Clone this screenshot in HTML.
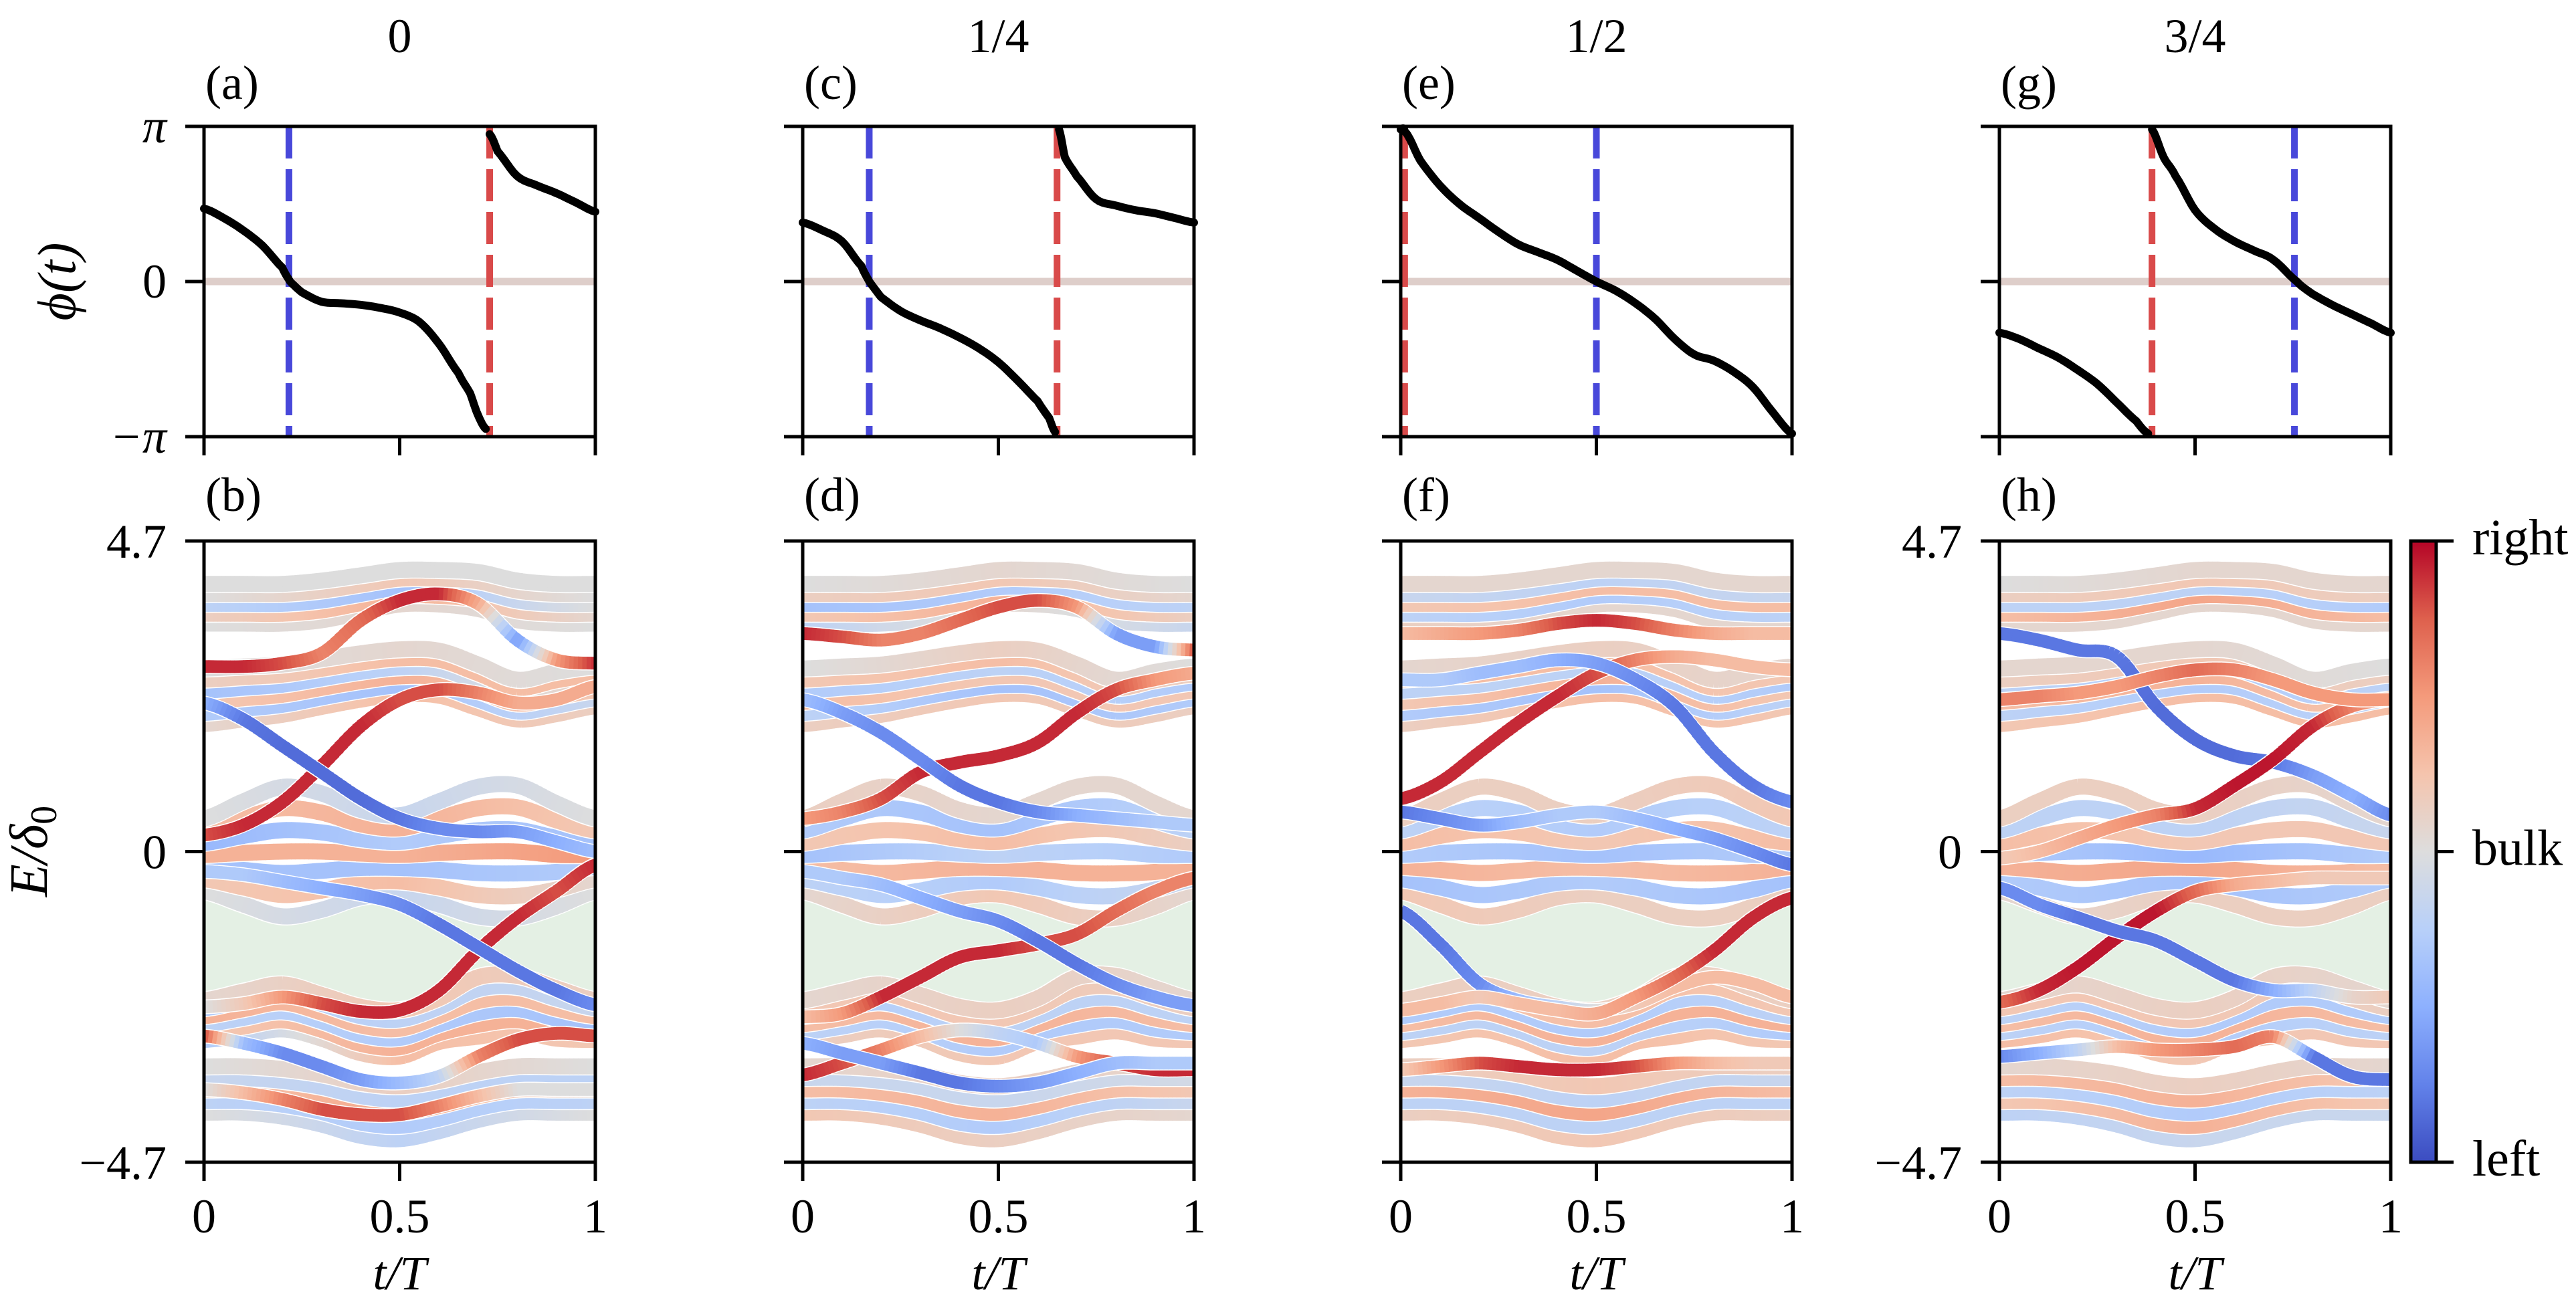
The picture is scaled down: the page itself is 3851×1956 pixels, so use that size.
<!DOCTYPE html>
<html><head><meta charset="utf-8"><title>Band structures and phase panels</title>
<style>
html,body{margin:0;padding:0;background:#fff;}
svg{display:block;font-family:"Liberation Serif","DejaVu Serif",serif;}
text{fill:#000;}
</style></head>
<body>
<svg id="fig" xmlns="http://www.w3.org/2000/svg" width="3851" height="1956" viewBox="0 0 3851 1956">
<defs>
<linearGradient id="cbgrad" x1="0" y1="1" x2="0" y2="0">
<stop offset="0" stop-color="rgb(59,76,192)"/><stop offset="0.125" stop-color="rgb(98,130,234)"/>
<stop offset="0.25" stop-color="rgb(141,176,254)"/><stop offset="0.375" stop-color="rgb(184,208,249)"/>
<stop offset="0.5" stop-color="rgb(221,221,221)"/><stop offset="0.625" stop-color="rgb(245,196,173)"/>
<stop offset="0.75" stop-color="rgb(244,154,123)"/><stop offset="0.875" stop-color="rgb(222,96,77)"/>
<stop offset="1" stop-color="rgb(180,4,38)"/>
</linearGradient>
</defs>
<g id="root"></g>
</svg>
<script>
// ---------- data ----------
const colTitles = ["0","1/4","1/2","3/4"];
const topLabels = ["(a)","(c)","(e)","(g)"];
const botLabels = ["(b)","(d)","(f)","(h)"];
const tKnots = [0,0.1,0.2,0.3,0.4,0.5,0.6,0.7,0.8,0.9,1];
const xTicks = [0,0.5,1];
const xTickLabels = ["0","0.5","1"];
const phiTicks = [1,0,-1];
const phiTickLabels = ["π","0","−π"];
const eTicks = [4.7,0,-4.7];
const eTickLabels = ["4.7","0","−4.7"];

// phase phi(t) in units of pi
const phiT_a = [0,.05,.1,.15,.2,.22,.25,.3,.35,.4,.45,.5,.55,.6,.65,.68,.7,.72,.73,.75,.8,.85,.9,.95,1];
const phiV_a = [.47,.41,.33,.23,.09,0,-.07,-.13,-.14,-.15,-.17,-.2,-.26,-.4,-.59,-.72,-.86,-.95,.95,.84,.68,.62,.57,.51,.45];
const phiT_c = [0,.05,.1,.15,.17,.2,.25,.3,.35,.4,.45,.5,.55,.6,.63,.645,.655,.67,.7,.75,.8,.85,.9,.95,1];
const phiV_c = [.38,.33,.26,.1,0,-.1,-.19,-.25,-.3,-.36,-.43,-.52,-.64,-.77,-.88,-.97,.98,.8,.68,.53,.49,.46,.44,.41,.38];
const phiT_e = [0,.01,.05,.1,.15,.2,.25,.3,.35,.4,.45,.5,.55,.6,.65,.7,.75,.8,.85,.9,.95,1];
const phiV_e = [.98,.97,.78,.62,.5,.41,.32,.24,.19,.14,.07,0,-.06,-.14,-.24,-.37,-.47,-.51,-.58,-.68,-.84,-.98];
const phiT_g = [0,.05,.1,.15,.2,.25,.3,.35,.38,.39,.42,.45,.5,.55,.6,.65,.7,.76,.8,.85,.9,.95,1];
const phiV_g = [-.33,-.37,-.43,-.49,-.57,-.66,-.78,-.9,-.98,.98,.8,.68,.46,.34,.26,.2,.14,0,-.08,-.15,-.21,-.27,-.33];
const blueDash = [0.217,0.17,0.5,0.754];
const redDash = [0.73,0.65,0.01,0.39];

// gap region (energy units)
const gapTop = [-0.67,-0.9,-1.08,-0.95,-0.76,-0.72,-0.85,-1.08,-1.12,-0.85,-0.62];
const gapBot = [-2.22,-2.1,-2.01,-2.15,-2.33,-2.38,-2.2,-1.95,-1.88,-2.05,-2.25];

// bulk band groups: centers, half widths, band offsets
const grpCenter = [
 [3.75,3.75,3.75,3.8,3.9,4.0,4.0,3.95,3.8,3.75,3.75],
 [2.35,2.4,2.45,2.55,2.65,2.72,2.7,2.5,2.3,2.4,2.5],
 [-0.05,-0.02,0,0,-0.03,-0.05,-0.02,0,0,-0.05,-0.05],
 [-2.55,-2.45,-2.35,-2.5,-2.7,-2.75,-2.55,-2.35,-2.3,-2.45,-2.55],
 [-3.6,-3.6,-3.65,-3.75,-3.9,-3.95,-3.85,-3.7,-3.6,-3.6,-3.6]
];
const grpHalf = [
 [0.3,0.3,0.3,0.3,0.28,0.26,0.26,0.28,0.3,0.3,0.3],
 [0.42,0.4,0.38,0.36,0.35,0.34,0.34,0.33,0.3,0.32,0.3],
 [0.55,0.78,0.98,0.88,0.66,0.6,0.78,0.98,1.0,0.78,0.55],
 [0.3,0.33,0.34,0.33,0.35,0.35,0.33,0.45,0.42,0.38,0.3],
 [0.35,0.35,0.36,0.38,0.4,0.4,0.38,0.36,0.35,0.35,0.35]
];
const grpOffsets = [
 [-1,-0.5,0,0.5,1],
 [-1,-0.6,-0.2,0.2,0.6,1],
 [-1,-0.67,-0.33,0,0.33,0.67,1],
 [-1,-0.6,-0.2,0.2,0.6,1],
 [-1,-0.5,0,0.5,1]
];
// bulk polarization colors per panel (knots t=0, .5, 1) -1 left .. +1 right
const bulkCol_b = [
 [0,0.1,0],[0.2,0.5,0.1],[-0.3,-0.5,0],[0,0.3,0],[0,0,0],
 [0.1,0.4,0.2],[-0.4,-0.5,-0.2],[0.3,0.5,0.3],[-0.5,-0.3,0.2],[0.2,0.4,0.4],[0,0.1,0],
 [0,-0.2,0],[0.3,0.4,0.1],[-0.5,-0.5,-0.4],[0.5,0.5,0.7],[-0.6,-0.4,-0.5],[0.4,0.5,0.3],[0,-0.2,0],
 [-0.4,0.4,0.3],[0.3,0.5,0.5],[-0.3,-0.4,-0.5],[0.5,0.4,0.4],[-0.4,-0.3,-0.2],[0.1,0.3,0.2],
 [0,-0.3,0],[-0.3,-0.4,-0.3],[0.3,0.6,0.1],[-0.2,-0.3,-0.3],[0,0.2,0]
];
const bulkCol_d = [
 [-0.3,0.1,-0.2],[0.3,0.5,0.2],[-0.5,-0.4,-0.3],[0.2,0.3,0.1],[0,0.1,0],
 [0.2,0.3,0.2],[-0.3,-0.5,-0.4],[0.4,0.3,0.3],[-0.4,-0.3,-0.4],[0.3,0.4,0.2],[0,0.2,0],
 [0.1,0.3,0.1],[-0.3,-0.4,-0.2],[0.4,0.5,0.5],[-0.5,-0.3,-0.4],[0.3,0.4,0.2],[-0.4,-0.5,-0.3],[0.2,0.1,0.1],
 [0.2,0.3,0.3],[-0.3,-0.4,-0.4],[0.4,0.5,0.4],[-0.4,-0.3,-0.3],[0.3,0.3,0.2],[0.1,0.2,0.1],
 [0.3,0.2,0.1],[-0.3,-0.4,-0.2],[0.4,0.5,0.3],[-0.2,-0.2,-0.1],[0.1,0.2,0.1]
];
const bulkCol_f = [
 [0.2,0.1,0.1],[-0.3,-0.4,-0.3],[0.3,0.4,0.4],[-0.2,-0.3,-0.2],[0.1,0.1,0.1],
 [0.2,0.4,0.3],[-0.4,-0.5,-0.3],[0.3,0.5,0.3],[-0.3,-0.3,-0.4],[0.4,0.4,0.3],[0.1,0.2,0.1],
 [0.3,0.2,0.2],[-0.5,-0.4,-0.5],[0.5,0.4,0.5],[-0.4,-0.5,-0.4],[0.4,0.3,0.4],[-0.3,-0.4,-0.3],[0.2,0.2,0.3],
 [0.3,0.4,0.3],[-0.3,-0.3,-0.4],[0.4,0.5,0.5],[-0.4,-0.4,-0.3],[0.3,0.4,0.3],[0.2,0.2,0.2],
 [0.2,0.3,0.2],[-0.3,-0.3,-0.3],[0.5,0.6,0.4],[-0.2,-0.3,-0.2],[0.2,0.3,0.2]
];
const bulkCol_h = [
 [0.1,0.1,0.1],[0.4,0.6,0.4],[-0.3,-0.3,-0.4],[0.2,0.3,0.2],[0,0.1,0.1],
 [0.3,0.4,0.4],[-0.3,-0.4,-0.3],[0.4,0.5,0.3],[-0.3,-0.4,-0.3],[0.2,0.3,0.2],[0.1,0.1,0],
 [0.1,0.2,0.2],[-0.4,-0.5,-0.4],[0.5,0.6,0.4],[-0.4,-0.6,-0.4],[0.4,0.3,0.3],[-0.3,-0.3,-0.2],[0.2,0.2,0.1],
 [0.4,0.3,0.3],[-0.3,-0.4,-0.3],[0.4,0.5,0.4],[-0.3,-0.4,-0.4],[0.3,0.3,0.2],[0.1,0.2,0.1],
 [-0.3,-0.2,-0.2],[0.3,0.5,0.3],[-0.3,-0.4,-0.3],[0.4,0.5,0.3],[0.1,0.2,0.1]
];

// edge states per panel: energies at tKnots and colors at tKnots
const edgeE_b = [
 [0.25,0.4,0.75,1.3,1.9,2.3,2.45,2.4,2.25,2.3,2.5],
 [2.25,2.0,1.6,1.2,0.8,0.5,0.35,0.3,0.3,0.15,0.0],
 [2.8,2.8,2.85,3.0,3.5,3.8,3.9,3.75,3.2,2.9,2.85],
 [-2.35,-2.3,-2.2,-2.3,-2.42,-2.4,-2.1,-1.5,-1.0,-0.6,-0.2],
 [-0.3,-0.35,-0.45,-0.55,-0.65,-0.8,-1.1,-1.45,-1.8,-2.1,-2.32],
 [-2.79,-2.9,-3.05,-3.25,-3.45,-3.5,-3.4,-3.1,-2.85,-2.75,-2.79],
 [-3.6,-3.65,-3.75,-3.9,-3.98,-3.98,-3.85,-3.7,-3.6,-3.6,-3.6]
];
const edgeC_b = [
 [0.8,0.9,0.9,0.9,0.9,0.8,0.8,0.6,0.4,0.4,0.4],
 [-0.5,-0.8,-0.85,-0.85,-0.85,-0.8,-0.7,-0.7,-0.6,-0.5,-0.4],
 [0.9,0.9,0.8,0.6,0.7,0.9,0.9,0.4,-0.6,0.5,0.9],
 [0,0.2,0.5,0.8,0.9,0.9,0.9,0.9,0.9,0.8,0.9],
 [-0.3,-0.3,-0.4,-0.5,-0.6,-0.7,-0.8,-0.8,-0.8,-0.8,-0.7],
 [0.8,-0.4,-0.7,-0.7,-0.6,-0.4,-0.2,0.6,0.8,0.8,0.8],
 [0,0.3,0.6,0.8,0.8,0.8,0.6,0.3,0,0,0]
];
const edgeE_d = [
 [0.5,0.6,0.8,1.2,1.35,1.45,1.65,2.1,2.45,2.6,2.7],
 [2.3,2.1,1.8,1.4,1.0,0.75,0.6,0.55,0.5,0.45,0.4],
 [3.3,3.25,3.2,3.3,3.5,3.7,3.8,3.7,3.3,3.1,3.05],
 [-2.5,-2.45,-2.2,-1.9,-1.6,-1.5,-1.4,-1.25,-0.9,-0.6,-0.4],
 [-0.3,-0.4,-0.5,-0.7,-0.9,-1.05,-1.35,-1.7,-2.0,-2.2,-2.33],
 [-3.38,-3.2,-3.0,-2.8,-2.7,-2.75,-2.9,-3.1,-3.2,-3.3,-3.3],
 [-2.9,-3.05,-3.2,-3.35,-3.5,-3.55,-3.5,-3.35,-3.2,-3.2,-3.2]
];
const edgeC_d = [
 [0.5,0.6,0.8,0.9,0.9,0.9,0.9,0.9,0.8,0.5,0.4],
 [-0.4,-0.6,-0.7,-0.7,-0.8,-0.8,-0.7,-0.5,-0.4,-0.3,-0.3],
 [0.9,0.8,0.6,0.6,0.7,0.8,0.8,0.5,-0.6,-0.6,0.8],
 [0.3,0.5,0.9,0.9,0.9,0.9,0.8,0.8,0.7,0.6,0.6],
 [-0.3,-0.3,-0.4,-0.5,-0.6,-0.7,-0.8,-0.8,-0.7,-0.6,-0.6],
 [0.9,0.8,0.6,0.3,0,-0.2,-0.3,0.5,0.8,0.9,0.9],
 [-0.5,-0.6,-0.6,-0.8,-0.8,-0.7,-0.6,-0.5,-0.4,-0.3,-0.3]
];
const edgeE_f = [
 [0.8,1.05,1.5,1.95,2.35,2.7,2.9,2.95,2.9,2.8,2.75],
 [2.6,2.6,2.7,2.8,2.9,2.85,2.6,2.2,1.5,1.0,0.75],
 [3.3,3.3,3.3,3.35,3.45,3.5,3.45,3.35,3.3,3.3,3.3],
 [-0.9,-1.4,-2.0,-2.25,-2.35,-2.4,-2.3,-2.05,-1.9,-2.0,-2.2],
 [-2.4,-2.3,-2.2,-2.3,-2.4,-2.45,-2.2,-1.9,-1.5,-1.0,-0.7],
 [0.6,0.5,0.4,0.45,0.55,0.6,0.5,0.35,0.2,0.0,-0.2],
 [-3.3,-3.25,-3.2,-3.25,-3.3,-3.3,-3.25,-3.2,-3.2,-3.2,-3.2]
];
const edgeC_f = [
 [0.9,0.9,0.9,0.9,0.9,0.8,0.6,0.4,0.3,0.3,0.3],
 [-0.3,-0.3,-0.4,-0.4,-0.5,-0.6,-0.7,-0.8,-0.8,-0.8,-0.7],
 [0.3,0.4,0.5,0.6,0.8,0.9,0.8,0.6,0.4,0.3,0.3],
 [-0.8,-0.8,-0.7,-0.4,-0.2,0,0.2,0.3,0.3,0.3,0.3],
 [0.3,0.3,0.2,0.3,0.3,0.4,0.5,0.7,0.9,0.9,0.9],
 [-0.8,-0.7,-0.6,-0.4,-0.3,-0.3,-0.4,-0.5,-0.6,-0.7,-0.8],
 [0.2,0.5,0.8,0.9,0.9,0.9,0.8,0.5,0.3,0.2,0.2]
];
const edgeE_h = [
 [3.3,3.2,3.05,2.95,2.2,1.7,1.45,1.35,1.15,0.85,0.55],
 [-0.1,0.0,0.2,0.4,0.55,0.65,1.0,1.4,1.9,2.2,2.3],
 [-2.28,-2.1,-1.75,-1.3,-0.9,-0.6,-0.5,-0.45,-0.4,-0.4,-0.4],
 [-0.55,-0.8,-1.0,-1.2,-1.35,-1.65,-1.95,-2.1,-2.1,-2.2,-2.2],
 [-3.1,-3.05,-3.0,-2.95,-3.0,-3.0,-2.95,-2.8,-3.1,-3.4,-3.45],
 [2.3,2.35,2.4,2.5,2.65,2.75,2.75,2.6,2.4,2.3,2.3]
];
const edgeC_h = [
 [-0.8,-0.8,-0.8,-0.8,-0.85,-0.85,-0.85,-0.8,-0.6,-0.5,-0.7],
 [0.2,0.3,0.4,0.5,0.6,0.9,0.95,0.95,0.9,0.6,0.4],
 [0.7,0.9,0.95,0.95,0.95,0.7,0.4,0.3,0.2,0.2,0.2],
 [-0.7,-0.7,-0.8,-0.8,-0.8,-0.8,-0.8,-0.5,-0.2,0.1,0.2],
 [-0.7,-0.5,-0.2,0.3,0.5,0.6,0.7,0.6,-0.8,-0.8,-0.8],
 [0.6,0.6,0.5,0.5,0.6,0.7,0.6,0.5,0.5,0.5,0.5]
];

const phiTs = [phiT_a,phiT_c,phiT_e,phiT_g];
const phiVs = [phiV_a,phiV_c,phiV_e,phiV_g];
const bulkCols = [bulkCol_b,bulkCol_d,bulkCol_f,bulkCol_h];
const edgeEs = [edgeE_b,edgeE_d,edgeE_f,edgeE_h];
const edgeCs = [edgeC_b,edgeC_d,edgeC_f,edgeC_h];

// ---------- layout ----------
const NS = "http://www.w3.org/2000/svg";
const root = document.getElementById("root");
const lefts = [305,1200,2094,2989];
const PW = 585;
const TY0 = 189, TY1 = 653, BY0 = 809, BY1 = 1738;
const EMAX = 4.7;
const BULK_SAT = 0.72;
function xS(p,t){return lefts[p] + t*PW;}
function yPhi(v){return (TY0+TY1)/2 - v*(TY1-TY0)/2;}
function yE(e){return (BY0+BY1)/2 - e*(BY1-BY0)/(2*EMAX);}
function mk(tag, attrs, parent){const el=document.createElementNS(NS,tag);for(const k in attrs)el.setAttribute(k,attrs[k]);(parent||root).appendChild(el);return el;}

const cmap = [[59,76,192],[98,130,234],[141,176,254],[184,208,249],[221,221,221],[245,196,173],[244,154,123],[222,96,77],[180,4,38]];
function cw(v){let u=(Math.max(-1,Math.min(1,v))+1)/2*8;let i=Math.min(7,Math.floor(u));let f=u-i;const a=cmap[i],b=cmap[i+1];
 return "rgb("+Math.round(a[0]+(b[0]-a[0])*f)+","+Math.round(a[1]+(b[1]-a[1])*f)+","+Math.round(a[2]+(b[2]-a[2])*f)+")";}
function cr(arr,u){
 const n=arr.length-1;let i=Math.min(n-1,Math.floor(u));const f=u-i;
 const p0=arr[Math.max(0,i-1)],p1=arr[i],p2=arr[i+1],p3=arr[Math.min(n,i+2)];
 return 0.5*((2*p1)+(-p0+p2)*f+(2*p0-5*p1+4*p2-p3)*f*f+(-p0+3*p1-3*p2+p3)*f*f*f);}
function lin(arr,u){const n=arr.length-1;const s=u*n;let i=Math.min(n-1,Math.floor(s));const f=s-i;return arr[i]+(arr[i+1]-arr[i])*f;}

function drawBand(g,p,E,C,width,name,sat){
 const N=90;const bg=mk("g",{},g);
 
 
 let pts=[];
 for(let k=0;k<=N;k++){const u=k/N;pts.push([xS(p,u),yE(cr(E,u*(E.length-1)))]);}
 mk("polyline",{points:pts.map(q=>q[0].toFixed(1)+","+q[1].toFixed(1)).join(" "),fill:"none",stroke:"#fff","stroke-width":width+3},bg);
 for(let k=0;k<N;k++){const u=(k+0.5)/N;
  mk("line",{x1:pts[k][0].toFixed(1),y1:pts[k][1].toFixed(1),x2:(pts[k+1][0]+0.8).toFixed(1),y2:pts[k+1][1].toFixed(1),stroke:cw(sat*lin(C,u)),"stroke-width":width},bg);}
}

for(let p=0;p<4;p++){
 const col = mk("g",{});
 
 
 const title = mk("text",{x:xS(p,0.5),y:78,"text-anchor":"middle","font-size":72},col);
 title.textContent = colTitles[p];
 
 
 const la = mk("text",{x:lefts[p]+2,y:148,"font-size":72},col);
 la.textContent = topLabels[p];
 
 
 const lb = mk("text",{x:lefts[p]+2,y:764,"font-size":72},col);
 lb.textContent = botLabels[p];
 
 

 // ---- top phase panel ----
 const tp = mk("g",{},col);
 
 
 const zl = mk("line",{x1:xS(p,0),x2:xS(p,1),y1:yPhi(0),y2:yPhi(0),stroke:"rgb(222,206,202)","stroke-width":11},tp);
 
 
 const bd = mk("line",{x1:xS(p,blueDash[p]),x2:xS(p,blueDash[p]),y1:TY0,y2:TY1,stroke:"rgb(72,72,218)","stroke-width":10,"stroke-dasharray":"48 16"},tp);
 
 
 const rd = mk("line",{x1:xS(p,redDash[p]),x2:xS(p,redDash[p]),y1:TY0,y2:TY1,stroke:"rgb(217,74,74)","stroke-width":10,"stroke-dasharray":"48 16"},tp);
 
 
 const T=phiTs[p],V=phiVs[p];
 let seg=[];const segs=[];
 for(let i=0;i<T.length;i++){ if(i>0 && Math.abs(V[i]-V[i-1])>1){segs.push(seg);seg=[];} seg.push([T[i],V[i]]); }
 segs.push(seg);
 for(const s of segs){
  const ts=s.map(q=>q[0]), vs=s.map(q=>q[1]);
  let pts=[];
  for(let i=0;i<s.length-1;i++){
   for(let k=0;k<6;k++){const f=k/6;const u=i+f;
    pts.push([xS(p,ts[i]+(ts[i+1]-ts[i])*f), yPhi(cr(vs,u))]);}
  }
  pts.push([xS(p,ts[ts.length-1]),yPhi(vs[vs.length-1])]);
  const pl = mk("polyline",{points:pts.map(q=>q[0].toFixed(1)+","+q[1].toFixed(1)).join(" "),fill:"none",stroke:"#000","stroke-width":12,"stroke-linecap":"round","stroke-linejoin":"round"},tp);
  
  
 }
 const tf = mk("rect",{x:lefts[p],y:TY0,width:PW,height:TY1-TY0,fill:"none",stroke:"#000","stroke-width":5},tp);
 
 
 for(let i=0;i<phiTicks.length;i++){
  const tk = mk("line",{x1:lefts[p]-28,x2:lefts[p],y1:yPhi(phiTicks[i]),y2:yPhi(phiTicks[i]),stroke:"#000","stroke-width":5},tp);
  
  
  if(p===0){
   const tl = mk("text",{x:lefts[p]-56,y:yPhi(phiTicks[i])+24,"text-anchor":"end","font-size":72,"font-style":i===1?"normal":"italic"},tp);
   tl.textContent = phiTickLabels[i];
   
   
  }
 }
 for(let i=0;i<xTicks.length;i++){
  const tk = mk("line",{x1:xS(p,xTicks[i]),x2:xS(p,xTicks[i]),y1:TY1,y2:TY1+28,stroke:"#000","stroke-width":5},tp);
  
  
 }

 // ---- bottom spectrum panel ----
 const bp = mk("g",{},col);
 
 
 const cp = mk("clipPath",{id:"clip"+p},bp);
 mk("rect",{x:lefts[p],y:BY0,width:PW,height:BY1-BY0},cp);
 const inner = mk("g",{"clip-path":"url(#clip"+p+")"},bp);
 let gp="";
 for(let k=0;k<=60;k++){const u=k/60;gp+=(k?"L":"M")+xS(p,u).toFixed(1)+","+yE(cr(gapTop,u*10)).toFixed(1);}
 for(let k=60;k>=0;k--){const u=k/60;gp+="L"+xS(p,u).toFixed(1)+","+yE(cr(gapBot,u*10)).toFixed(1);}
 const gap = mk("path",{d:gp+"Z",fill:"rgb(228,240,228)"},inner);
 
 
 let bi=0;
 for(let g=0;g<grpCenter.length;g++){
  for(let j=0;j<grpOffsets[g].length;j++){
   const E=grpCenter[g].map((c,k)=>c+grpOffsets[g][j]*grpHalf[g][k]);
   drawBand(inner,p,E,bulkCols[p][bi],24,'bulk-band',BULK_SAT);
   bi++;
  }
 }
 for(let e=0;e<edgeEs[p].length;e++){ drawBand(inner,p,edgeEs[p][e],edgeCs[p][e],19,'edge-state-band',1); }
 const bf = mk("rect",{x:lefts[p],y:BY0,width:PW,height:BY1-BY0,fill:"none",stroke:"#000","stroke-width":5},bp);
 
 
 for(let i=0;i<eTicks.length;i++){
  const tk = mk("line",{x1:lefts[p]-28,x2:lefts[p],y1:yE(eTicks[i]),y2:yE(eTicks[i]),stroke:"#000","stroke-width":5},bp);
  
  
  if(p===0||p===3){
   const tl = mk("text",{x:lefts[p]-56,y:yE(eTicks[i])+25,"text-anchor":"end","font-size":72},bp);
   tl.textContent = eTickLabels[i];
   
   
  }
 }
 for(let i=0;i<xTicks.length;i++){
  const tk = mk("line",{x1:xS(p,xTicks[i]),x2:xS(p,xTicks[i]),y1:BY1,y2:BY1+28,stroke:"#000","stroke-width":5},bp);
  
  
  const tl = mk("text",{x:xS(p,xTicks[i]),y:1843,"text-anchor":"middle","font-size":72},bp);
  tl.textContent = xTickLabels[i];
  
  
 }
 const xl = mk("text",{x:xS(p,0.5),y:1928,"text-anchor":"middle","font-size":72,"font-style":"italic"},bp);
 xl.textContent = "t/T";
 
 
}

// y-axis titles
const yl1 = mk("text",{x:0,y:0,"text-anchor":"middle","font-size":80,"font-style":"italic",transform:"translate(112,421) rotate(-90)"});
yl1.textContent = "ϕ(t)";


const yl2 = mk("text",{x:0,y:0,"text-anchor":"middle","font-size":80,"font-style":"italic",transform:"translate(70,1273) rotate(-90)"});
yl2.innerHTML = 'E/δ<tspan font-size="56" dy="14" font-style="normal">0</tspan>';



// colorbar
const cb = mk("g",{});


mk("rect",{x:3604,y:BY0,width:38,height:BY1-BY0,fill:"url(#cbgrad)",stroke:"#000","stroke-width":5},cb);
const cbLabels = ["right","bulk","left"];
const cbPos = [1,0,-1];
for(let i=0;i<3;i++){
 const y = yE(cbPos[i]*EMAX);
 const tk = mk("line",{x1:3642,x2:3668,y1:y,y2:y,stroke:"#000","stroke-width":5},cb);
 
 
 const tl = mk("text",{x:3696,y:y+20,"font-size":76},cb);
 tl.textContent = cbLabels[i];
 
 
}
</script>
</body></html>
